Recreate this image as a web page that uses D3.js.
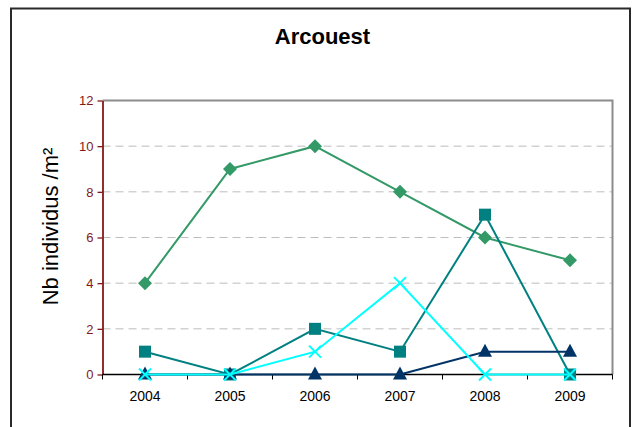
<!DOCTYPE html>
<html>
<head>
<meta charset="utf-8">
<script src="https://cdn.jsdelivr.net/npm/d3@7/dist/d3.min.js"></script>
<style>
  html, body { margin: 0; padding: 0; background: #fff; }
  svg { display: block; font-family: "Liberation Sans", Arial, sans-serif; }
</style>
</head>
<body>
<svg id="chart" width="635" height="427"></svg>
<script>
// Yearly densities at Arcouest (individuals per m²)
const years = ["2004", "2005", "2006", "2007", "2008", "2009"];
const yTicks = [0, 2, 4, 6, 8, 10, 12];
const diamondSeries = [4, 9, 10, 8, 6, 5];
const squareSeries = [1, 0, 2, 1, 7, 0];
const triangleSeries = [0, 0, 0, 0, 1, 1];
const crossSeries = [0, 0, 1, 4, 0, 0];

const series = [
  { values: diamondSeries, color: "#339966", symbol: "diamond" },
  { values: squareSeries, color: "#008080", symbol: "square" },
  { values: triangleSeries, color: "#003366", symbol: "triangle" },
  { values: crossSeries, color: "#00FFFF", symbol: "cross" }
];

const svg = d3.select("#chart");
const plotLeft = 102.5, plotRight = 612.5, plotTop = 100.5, plotBottom = 374.5;

// outer frame
svg.append("rect")
  .attr("x", 11).attr("y", 8.5)
  .attr("width", 619).attr("height", 440)
  .attr("fill", "none").attr("stroke", "#2a2a2a").attr("stroke-width", 2);

svg.append("text")
  .attr("x", 322.5).attr("y", 43.5)
  .attr("text-anchor", "middle")
  .attr("font-size", 22).attr("font-weight", "bold")
  .attr("fill", "#000")
  .text("Arcouest");

const x = d3.scaleBand().domain(years).range([plotLeft, plotRight]).padding(0);
const y = d3.scaleLinear().domain([0, 12]).range([plotBottom, plotTop]);

// horizontal dashed gridlines
svg.append("g")
  .selectAll("line")
  .data(yTicks.filter(t => t > 0 && t < 12))
  .join("line")
  .attr("x1", plotLeft).attr("x2", plotRight)
  .attr("y1", d => y(d)).attr("y2", d => y(d))
  .attr("stroke", "#bdbdbd").attr("stroke-width", 1)
  .attr("stroke-dasharray", "8,5");

// top and right edges of the plot area
svg.append("path")
  .attr("d", `M${plotLeft},${plotTop}H${plotRight}V${plotBottom}`)
  .attr("fill", "none").attr("stroke", "#8c8c8c").attr("stroke-width", 2);

// y axis
const yAxis = svg.append("g")
  .attr("transform", `translate(${plotLeft},0)`)
  .call(d3.axisLeft(y).tickValues(yTicks).tickSize(5).tickPadding(4).tickSizeOuter(0));
yAxis.select(".domain").attr("stroke", "#841818").attr("stroke-width", 1.8);
yAxis.selectAll(".tick line").attr("stroke", "#841818").attr("stroke-width", 1.3);
yAxis.selectAll(".tick text")
  .attr("fill", "#841818").attr("font-size", 13)
  .attr("font-family", "'Liberation Sans', Arial, sans-serif");

// x axis with ticks at category boundaries
const xAxis = svg.append("g")
  .attr("transform", `translate(0,${plotBottom})`)
  .call(d3.axisBottom(x).tickSize(0).tickPadding(17));
xAxis.select(".domain").remove();
xAxis.selectAll(".tick text")
  .attr("fill", "#000").attr("font-size", 14)
  .attr("font-family", "'Liberation Sans', Arial, sans-serif");
xAxis.append("line")
  .attr("x1", plotLeft).attr("x2", plotRight)
  .attr("y1", 0).attr("y2", 0)
  .attr("stroke", "#000").attr("stroke-width", 1.6);
xAxis.selectAll(".boundary")
  .data(years.concat(["end"]))
  .join("line")
  .attr("class", "boundary")
  .attr("x1", (d, i) => plotLeft + i * x.bandwidth())
  .attr("x2", (d, i) => plotLeft + i * x.bandwidth())
  .attr("y1", 0).attr("y2", 5)
  .attr("stroke", "#000").attr("stroke-width", 1);

// y axis title
svg.append("text")
  .attr("transform", `translate(58,226.5) rotate(-90)`)
  .attr("text-anchor", "middle")
  .attr("font-size", 22)
  .attr("fill", "#000")
  .text("Nb individus /m²");

const cx = i => x(years[i]) + x.bandwidth() / 2;
const line = d3.line().x((d, i) => cx(i)).y(d => y(d));

// marker shapes drawn around the origin
const markerPath = {
  diamond: "M0,-7L7,0L0,7L-7,0Z",
  square: "M-6,-6H6V6H-6Z",
  triangle: "M0,-8L7,5H-7Z"
};

series.forEach(s => {
  const g = svg.append("g");
  g.append("path")
    .datum(s.values)
    .attr("d", line)
    .attr("fill", "none")
    .attr("stroke", s.color)
    .attr("stroke-width", 2);
  if (s.symbol === "cross") {
    const r = 6;
    g.selectAll("path.mark")
      .data(s.values)
      .join("path")
      .attr("class", "mark")
      .attr("d", (d, i) => {
        const px = cx(i), py = y(d);
        return `M${px - r},${py - r}L${px + r},${py + r}M${px - r},${py + r}L${px + r},${py - r}`;
      })
      .attr("stroke", s.color).attr("stroke-width", 2).attr("fill", "none");
  } else {
    g.selectAll("path.mark")
      .data(s.values)
      .join("path")
      .attr("class", "mark")
      .attr("transform", (d, i) => `translate(${cx(i)},${y(d)})`)
      .attr("d", markerPath[s.symbol])
      .attr("fill", s.color);
  }
});
</script>
</body>
</html>
